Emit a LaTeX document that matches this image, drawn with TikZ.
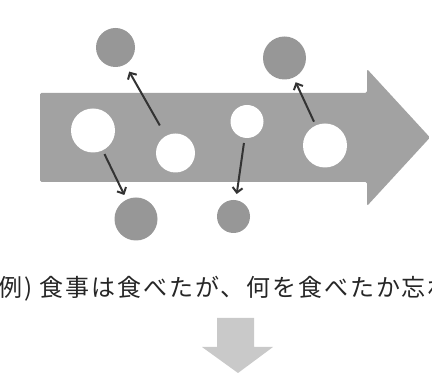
\documentclass[tikz,border=0pt]{standalone}
\usepackage{fontspec}
\newfontfamily\jpfont{Noto Sans CJK JP}
\usetikzlibrary{arrows.meta}
\definecolor{bigarrow}{HTML}{A2A2A2}
\definecolor{dotgray}{HTML}{979797}
\definecolor{downarrow}{HTML}{C9C9C9}
\definecolor{linkcol}{HTML}{333333}
\tikzset{
  whitedot/.style={circle, fill=white, inner sep=0pt, minimum size=#1},
  graydot/.style={circle, fill=dotgray, inner sep=0pt, minimum size=#1},
  link/.style={draw=linkcol, line width=2pt, -{Straight Barb[length=5pt,width=10pt]}},
  caption/.style={font=\jpfont\fontsize{24}{26}\selectfont\addfontfeature{LetterSpace=8}, text=black!85, inner sep=0pt}
}
\begin{document}
\begin{tikzpicture}[x=1pt,y=-1pt]
\useasboundingbox (0,0) rectangle (432,374);
\fill[white] (0,0) rectangle (432,374);
\begin{scope}
\clip (0,0) rectangle (432,374);
% big arrow
\fill[bigarrow, rounded corners=1.5pt] (40,93) -- (367,93) -- (367,69) -- (430,137.5) -- (367,206) -- (367,182) -- (40,182) -- cycle;
% white dots
\node[whitedot=44pt] (w1) at (93,130.5) {};
\node[whitedot=39pt] (w2) at (175.5,153) {};
\node[whitedot=33pt] (w3) at (247,121.5) {};
\node[whitedot=44pt] (w4) at (325,145.5) {};
% gray dots
\node[graydot=39pt] (gA) at (115.5,47.5) {};
\node[graydot=43pt] (gB) at (284.5,58) {};
\node[graydot=43pt] (gC) at (136,219) {};
\node[graydot=33pt] (gD) at (233.5,216.5) {};
% links
\draw[link, shorten <=12pt, shorten >=8pt] (w2) -- (gA);
\draw[link, shorten <=4pt, shorten >=5pt] (w1) -- (gC);
\draw[link, shorten <=5pt, shorten >=6pt] (w3) -- (gD);
\draw[link, shorten <=4pt, shorten >=5pt] (w4) -- (gB);
% caption
\node[caption, anchor=west] (cap) at (-2,289) {例) 食事は食べたが、何を食べたか忘れ};
% down arrow
\fill[downarrow] (217,318) -- (254,318) -- (254,347) -- (273,347) -- (238,373) -- (202,347) -- (217,347) -- cycle;
\end{scope}
\end{tikzpicture}
\end{document}
